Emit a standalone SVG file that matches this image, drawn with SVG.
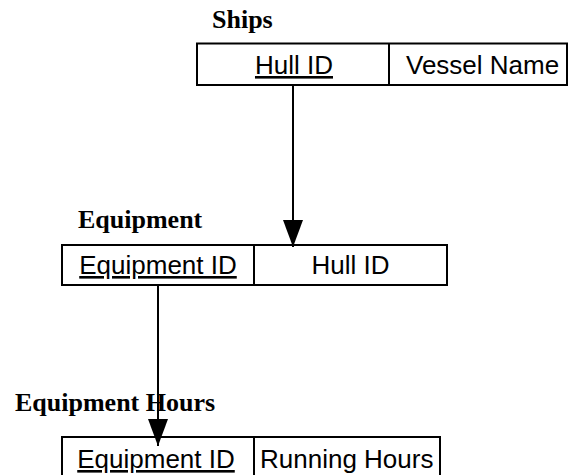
<svg xmlns="http://www.w3.org/2000/svg" width="575" height="475" viewBox="0 0 575 475">
<style>
.box{fill:#fff;stroke:#000;stroke-width:2}
.div{stroke:#000;stroke-width:2}
.lbl{font-family:"Liberation Serif","Times New Roman",serif;font-weight:bold;font-size:26px;fill:#000}
.t{font-family:"Liberation Sans",Arial,sans-serif;font-size:26px;fill:#000}
.u{text-decoration:underline}
.conn{stroke:#000;stroke-width:2;fill:none}
</style>
<defs>
<marker id="ah" markerUnits="userSpaceOnUse" markerWidth="28" markerHeight="20" refX="27" refY="10" orient="auto" viewBox="0 0 28 20">
<path d="M0,0 L27,10 L0,20 Z" fill="#000"/>
</marker>
</defs>
<rect width="575" height="475" fill="#fff"/>
<g id="ships">
<text class="lbl" x="212" y="28">Ships</text>
<rect class="box" x="197" y="43.5" width="370" height="41.5"/>
<line class="div" x1="389" y1="43.5" x2="389" y2="85"/>
<text class="t u" x="294" y="74" text-anchor="middle">Hull ID</text>
<text class="t" x="406" y="74">Vessel Name</text>
</g>
<g id="equipment">
<text class="lbl" x="78" y="228">Equipment</text>
<rect class="box" x="62" y="245" width="385" height="40"/>
<line class="div" x1="254" y1="245" x2="254" y2="285"/>
<text class="t u" x="158" y="274" text-anchor="middle">Equipment ID</text>
<text class="t" x="350.5" y="274" text-anchor="middle">Hull ID</text>
</g>
<g id="equipment-hours">
<text class="lbl" x="15" y="411">Equipment Hours</text>
<rect class="box" x="62" y="437" width="378" height="42"/>
<line class="div" x1="254" y1="437" x2="254" y2="479"/>
<text class="t u" x="156" y="468" text-anchor="middle">Equipment ID</text>
<text class="t" x="260" y="468">Running Hours</text>
</g>
<g id="connectors">
<path class="conn" d="M293,85 L293,247" marker-end="url(#ah)"/>
<path class="conn" d="M158,285 L158,446" marker-end="url(#ah)"/>
</g>
</svg>
